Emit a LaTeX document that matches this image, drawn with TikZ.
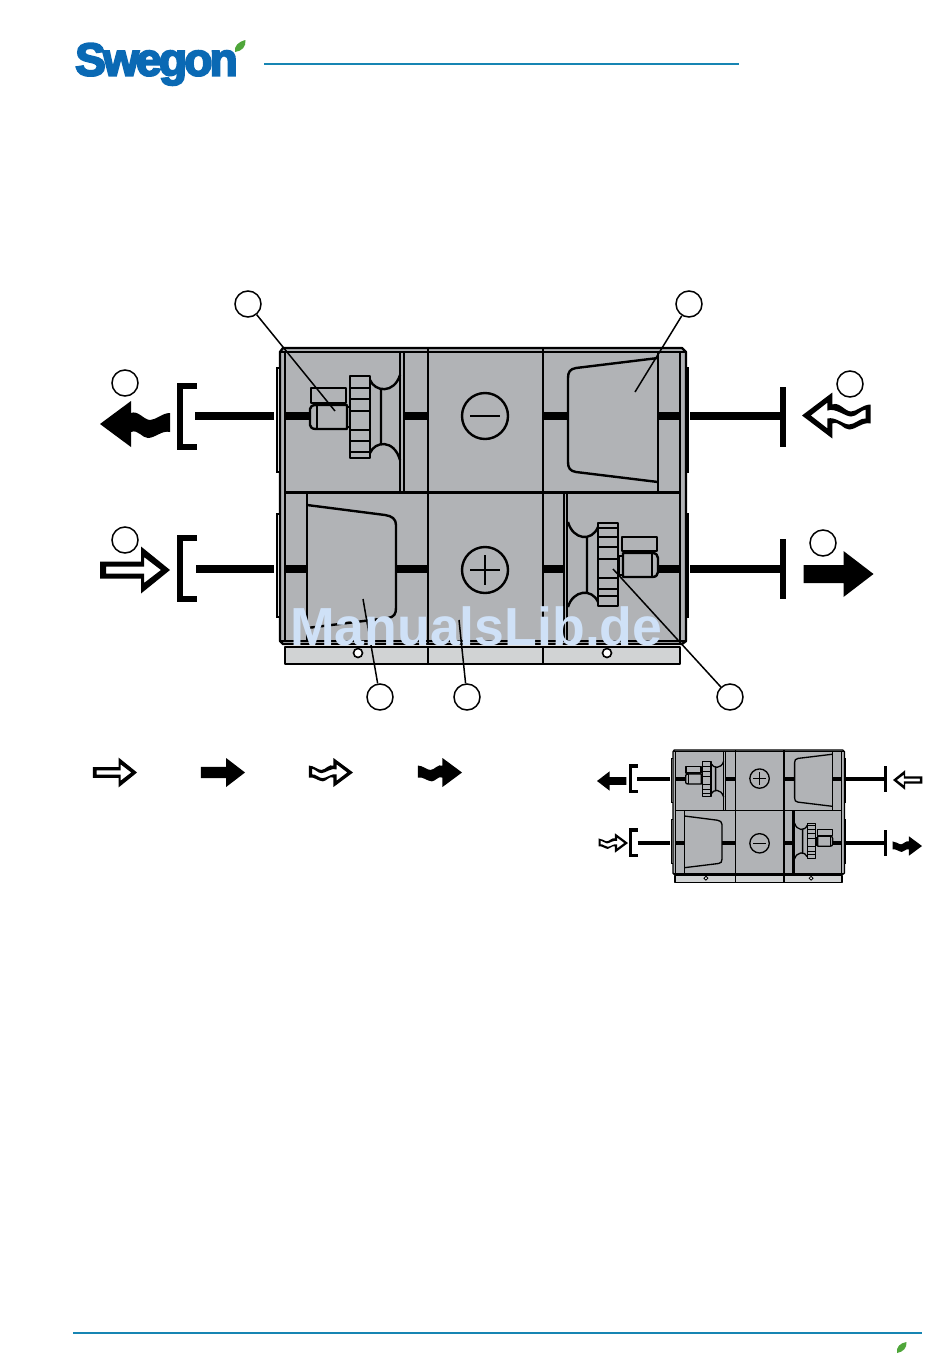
\documentclass[tikz,border=0pt]{standalone}
\usepackage{fontspec}
\setmainfont{Liberation Sans}
\newfontfamily\logofont[FakeBold=4.5,LetterSpace=-6]{Liberation Sans Bold}
\definecolor{unitgray}{HTML}{B1B3B6}
\definecolor{basegray}{HTML}{D1D3D4}
\definecolor{logoblue}{HTML}{0A69B4}
\definecolor{rulecol}{HTML}{1785B3}
\definecolor{leafgreen}{HTML}{4FA63A}
\definecolor{markcol}{HTML}{CFE1F7}
\def\ulw{1}
\tikzset{
  thinl/.style={line width=\ulw*1.6pt,black},
  midl/.style={line width=\ulw*2.4pt,black,line join=round},
  duct/.style={line width=\ulw*7.2pt,black,line cap=butt},
  heavy/.style={line width=\ulw*6pt,black,line cap=butt},
  callout/.style={circle,draw=black,line width=1.5pt,minimum size=26pt,inner sep=0pt},
  leader/.style={line width=1.5pt,black},
  toprule/.style={line width=2pt,rulecol},
}
\newcommand{\SolidS}{\fill[black] (0,0)--(-30,-23)--(-30,-9)--(-70,-9)--(-70,9)--(-30,9)--(-30,23)--cycle;}
\newcommand{\OpenS}{\fill[black,even odd rule] (0,0)--(-29,-23.5)--(-29,-8.5)--(-70,-8.5)--(-70,8.5)--(-29,8.5)--(-29,23.5)--cycle
  (-9,0)--(-26,-13)--(-26,-3.5)--(-64,-3.5)--(-64,3.5)--(-26,3.5)--(-26,13)--cycle;}
\newcommand{\SolidW}{\fill[black] (0,0)--(-31,-23)--(-31,-11) .. controls (-38,-14) and (-44,-4) .. (-50,-4) .. controls (-56,-4) and (-62,-11) .. (-70,-11) -- (-70,8) .. controls (-62,6) and (-55,14) .. (-48,14) .. controls (-42,14) and (-38,5) .. (-31,8) -- (-31,23) -- cycle;}
\newcommand{\OpenW}{\fill[black,even odd rule] (0,0)--(-31,-23)--(-31,-11) .. controls (-38,-14) and (-44,-4) .. (-50,-4) .. controls (-56,-4) and (-62,-11) .. (-70,-11) -- (-70,8) .. controls (-62,6) and (-55,14) .. (-48,14) .. controls (-42,14) and (-38,5) .. (-31,8) -- (-31,23) -- cycle
  (-9,0)--(-26,-13)--(-26,-5) .. controls (-34,-8) and (-44,1) .. (-50,1) .. controls (-56,1) and (-60,-5.5) .. (-65,-6) -- (-65,3) .. controls (-60,2) and (-54,9) .. (-48,9) .. controls (-42,9) and (-34,1) .. (-26,3) -- (-26,13) -- cycle;}
\newcommand{\Put}[5]{\begin{scope}[shift={(#1,#2)},xscale=#3,yscale=#4]#5\end{scope}}
\newcommand{\SignMinus}{\draw[midl] (485,416) circle[radius=23]; \draw[midl] (470,416)--(500,416);}
\newcommand{\SignMinusLow}{\draw[midl] (485,570) circle[radius=23]; \draw[midl] (470,570)--(500,570);}
\newcommand{\SignPlus}{\draw[midl] (485,416) circle[radius=23]; \draw[midl] (470,416)--(500,416) (485,401)--(485,431);}
\newcommand{\SignPlusLow}{\draw[midl] (485,570) circle[radius=23]; \draw[midl] (470,570)--(500,570) (485,555)--(485,585);}
% the air handling unit, in the coordinates of the large drawing
\newcommand{\UnitBody}[2]{%
  % flanges
  \draw[thinl] (280,368)--(277,368)--(277,472)--(280,472) (280,514)--(277,514)--(277,617)--(280,617);
  \draw[thinl] (686,368)--(688,368)--(688,472)--(686,472) (686,514)--(688,514)--(688,617)--(686,617);
  % base
  \draw[midl,fill=basegray] (285,647) rectangle (680,664);
  \draw[midl] (428,647)--(428,664) (543,647)--(543,664);
  \draw[thinl,fill=white] (358,653) circle[radius=4.5];
  \draw[thinl,fill=white] (607,653) circle[radius=4.5];
  % casing
  \draw[midl,fill=unitgray] (283,348)--(682,348)--(686,352)--(686,641)--(682,644)--(283,644)--(280,641)--(280,352)--cycle;
  \draw[thinl] (280,352)--(686,352) (285,352)--(285,641) (680,352)--(680,641) (280,641)--(686,641);
  \draw[midl] (285,492.5)--(680,492.5) (428,348)--(428,644) (543,348)--(543,644);
  % ducts and connection marks
  \draw[duct] (195,416)--(274,416) (285,416)--(310,416) (347,416)--(350,416) (404,416)--(428,416) (543,416)--(568,416) (658,416)--(680,416) (690,416)--(782,416);
  \draw[duct] (196,569)--(274,569) (285,569)--(306,569) (397,569)--(428,569) (543,569)--(564,569) (657,569)--(680,569) (690,569)--(782,569);
  \draw[heavy] (197,386)--(180,386)--(180,446.5)--(197,446.5);
  \draw[heavy] (197,538)--(180,538)--(180,599)--(197,599);
  \draw[heavy] (783,387)--(783,447) (783,539)--(783,599);
  #1 #2
  % upper fan
  \draw[midl,fill=unitgray] (311,388) rectangle (346,403);
  \draw[midl,fill=unitgray] (347,407) rectangle (350,427);
  \draw[midl,fill=unitgray] (316,405)--(347,405)--(347,429)--(316,429) .. controls (312,429) and (310,427) .. (310,425)--(310,409) .. controls (310,407) and (312,405) .. (316,405)--cycle;
  \draw[thinl] (317,405)--(317,429);
  \draw[midl,fill=unitgray] (350,376) rectangle (370,458);
  \draw[thinl] (350,388)--(370,388) (350,399)--(370,399) (350,411)--(370,411) (350,430)--(370,430) (350,441)--(370,441) (350,452)--(370,452);
  \draw[midl] (370,380) .. controls (375,392) and (394,394) .. (400,375) (370,453) .. controls (375,441) and (394,439) .. (400,460) (381,390)--(381,443);
  \draw[midl] (400,353)--(400,492) (404,353)--(404,492);
  % upper filter
  \draw[midl] (658,352)--(658,492);
  \draw[midl] (658,358)--(576,368) .. controls (570,369) and (568,372) .. (568,378)--(568,462) .. controls (568,468) and (570,471) .. (576,472)--(658,482);
  % lower filter
  \draw[midl] (307,492)--(307,642);
  \draw[midl] (307,505)--(385,515) .. controls (392,516) and (396,519) .. (396,525)--(396,608) .. controls (396,614) and (394,617) .. (388,618)--(307,628);
  % lower fan
  \draw[midl] (564,493)--(564,641) (567,493)--(567,641);
  \draw[midl,fill=unitgray] (622,537) rectangle (657,551);
  \draw[midl,fill=unitgray] (619,556) rectangle (623,575);
  \draw[midl,fill=unitgray] (623,553)--(652,553) .. controls (656,553) and (658,555) .. (658,558)--(658,572) .. controls (658,575) and (656,577) .. (652,577)--(623,577)--cycle;
  \draw[thinl] (652,553)--(652,577);
  \draw[midl,fill=unitgray] (598,523) rectangle (618,606);
  \draw[thinl] (598,528)--(618,528) (598,537)--(618,537) (598,547)--(618,547) (598,559)--(618,559) (598,578)--(618,578) (598,589)--(618,589) (598,596)--(618,596);
  \draw[midl] (568,522) .. controls (573,540) and (592,542) .. (598,527) (568,607) .. controls (573,590) and (592,588) .. (598,602) (587,538)--(587,592);
}
\begin{document}
\begin{tikzpicture}[x=1pt,y=-1pt]
\useasboundingbox (0,0) rectangle (950,1360);
\fill[white] (0,0) rectangle (950,1360);
% header and footer
\node[font=\logofont\fontsize{46}{46}\selectfont,text=logoblue,anchor=base west,inner sep=0pt] (logo) at (75,75.5) {Swegon};
\fill[leafgreen] (245.5,40) .. controls (238,42) and (234,46) .. (235,52) .. controls (242,51) and (246,47) .. (245.5,40) -- cycle;
\coordinate (hl) at (264,64); \coordinate (hr) at (739,64);
\draw[toprule] (hl)--(hr);
\coordinate (fl) at (73,1333); \coordinate (fr) at (922,1333);
\draw[toprule] (fl)--(fr);
\fill[leafgreen] (906.5,1342) .. controls (900,1343) and (896,1347) .. (897,1353) .. controls (903,1352) and (907,1348) .. (906.5,1342) -- cycle;
% large unit
\UnitBody{\SignMinus}{\SignPlusLow}
% small unit
\begin{scope}[shift={(673,750)},xscale=0.4222,yscale=0.4203,shift={(-280,-348)}]
\def\ulw{0.55}
\UnitBody{\SignPlus}{\SignMinusLow}
\end{scope}
% large arrows
\Put{100}{424}{-1}{1}{\SolidW}
\Put{802}{415.5}{-0.98}{1}{\OpenW}
\Put{170}{570}{1}{1}{\OpenS}
\Put{873.5}{574}{1}{1}{\SolidS}
% legend arrows
\Put{137}{772.5}{0.63}{0.63}{\OpenS}
\Put{245}{772.5}{0.63}{0.63}{\SolidS}
\Put{353}{772.5}{0.63}{0.63}{\OpenW}
\Put{462}{772.5}{0.63}{0.63}{\SolidW}
% small unit arrows
\Put{597}{781}{-0.42}{0.42}{\SolidS}
\Put{893}{780}{-0.42}{0.42}{\OpenS}
\Put{628}{843}{0.42}{0.42}{\OpenW}
\Put{922}{846}{0.42}{0.42}{\SolidW}
% callouts
\node[callout] (c1) at (248,304) {};
\node[callout] (c2) at (689,304) {};
\node[callout] (c3) at (125,383) {};
\node[callout] (c4) at (850,384) {};
\node[callout] (c5) at (125,540) {};
\node[callout] (c6) at (823,543) {};
\node[callout] (c7) at (380,697) {};
\node[callout] (c8) at (467,697) {};
\node[callout] (c9) at (730,697) {};
\coordinate (t1) at (335,411);
\coordinate (t2) at (635,392);
\coordinate (t7) at (363,599);
\coordinate (t8) at (459,620);
\coordinate (t9) at (613,569);
\draw[leader] (c1)--(t1);
\draw[leader] (c2)--(t2);
\draw[leader] (c7)--(t7);
\draw[leader] (c8)--(t8);
\draw[leader] (c9)--(t9);
% watermark
\node[font=\bfseries\fontsize{53.6}{53.6}\selectfont,text=markcol,anchor=base west,inner sep=0pt] (mark) at (290,645) {ManualsLib.de};
\end{tikzpicture}
\end{document}
